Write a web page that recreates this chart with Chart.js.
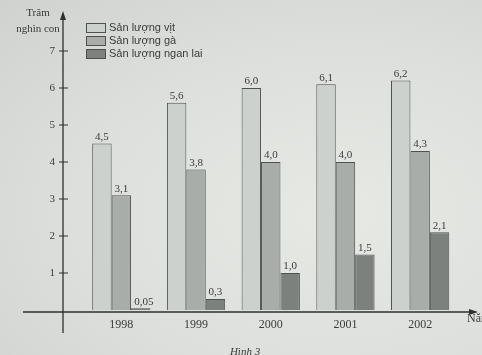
<!DOCTYPE html>
<html>
<head>
<meta charset="utf-8">
<title>Hinh 3</title>
<style>
html, body { margin: 0; padding: 0; }
body { width: 482px; height: 355px; overflow: hidden;
  background: radial-gradient(ellipse at 70% 60%, #e7e9e5 0%, #dcdfdb 55%, #cfd2ce 100%); }
canvas { display: block; }
</style>
</head>
<body>
<canvas id="chart" width="482" height="355"></canvas>
<script src="https://cdn.jsdelivr.net/npm/chart.js"></script>
<script>
  const years = ['1998', '1999', '2000', '2001', '2002'];
  const vit = [4.5, 5.6, 6.0, 6.1, 6.2];
  const ga = [3.1, 3.8, 4.0, 4.0, 4.3];
  const nganLai = [0.05, 0.3, 1.0, 1.5, 2.1];

  const serif = '"Liberation Serif", "DejaVu Serif", serif';
  const sans = '"Liberation Sans", Arial, sans-serif';
  const ink = '#3a3c3b';

  function fmt(v) {
    return (v < 0.1 ? v.toFixed(2) : v.toFixed(1)).replace('.', ',');
  }

  // axis lines with arrows, tick crosses, value labels, legend, captions
  const decor = {
    id: 'decor',
    afterDatasetsDraw(chart) {
      const c = chart.ctx;
      c.save();
      c.font = '11px ' + serif;
      c.fillStyle = ink;
      c.textAlign = 'center';
      c.textBaseline = 'bottom';
      chart.data.datasets.forEach((ds, i) => {
        chart.getDatasetMeta(i).data.forEach((bar, j) => {
          c.fillText(fmt(ds.data[j]), bar.x + (ds.data[j] < 0.1 ? 3 : 0), bar.y - 1);
        });
      });
      c.restore();
    },
    afterDraw(chart) {
      const c = chart.ctx;
      const y = chart.scales.y;
      const ax = 63;
      const y0 = y.getPixelForValue(0) + 2;
      c.save();
      c.strokeStyle = '#2e302f';
      c.fillStyle = '#2e302f';
      c.lineWidth = 1.3;
      c.beginPath();
      c.moveTo(ax, 333); c.lineTo(ax, 14);
      c.moveTo(23, y0); c.lineTo(474, y0);
      c.stroke();
      // arrows
      c.beginPath();
      c.moveTo(ax, 11); c.lineTo(ax - 3, 20); c.lineTo(ax + 3, 20); c.closePath();
      c.moveTo(478, y0); c.lineTo(469, y0 - 3); c.lineTo(469, y0 + 3); c.closePath();
      c.fill();
      // tick crosses
      c.lineWidth = 1;
      c.beginPath();
      y.ticks.forEach(t => {
        if (t.value < 1 || t.value > 7) return;
        const py = y.getPixelForValue(t.value);
        c.moveTo(ax - 4, py); c.lineTo(ax + 5, py);
      });
      c.stroke();
      // legend
      c.font = '11px ' + sans;
      c.textAlign = 'left';
      c.textBaseline = 'middle';
      chart.data.datasets.forEach((ds, i) => {
        const ty = 23 + i * 13;
        c.fillStyle = ds.backgroundColor;
        c.fillRect(86, ty, 19, 9);
        c.strokeStyle = ds.borderColor;
        c.strokeRect(86.5, ty + 0.5, 19, 9);
        c.fillStyle = ink;
        c.fillText(ds.label, 109, ty + 5);
      });
      // texts
      c.fillStyle = ink;
      c.font = '11px ' + serif;
      c.textAlign = 'center';
      c.fillText('Trăm', 38, 13);
      c.fillText('nghìn con', 38, 29);
      c.textAlign = 'left';
      c.font = '12px ' + serif;
      c.fillText('Năm', 467, 319);
      c.textAlign = 'center';
      c.font = 'italic 11px ' + serif;
      c.fillText('Hình 3', 245, 352);
      c.restore();
    }
  };

  new Chart(document.getElementById('chart'), {
    type: 'bar',
    data: {
      labels: years,
      datasets: [
        { label: 'Sản lượng vịt', data: vit, backgroundColor: '#cdd1ce', borderColor: '#4e5150', borderWidth: 1 },
        { label: 'Sản lượng gà', data: ga, backgroundColor: '#a8adaa', borderColor: '#4e5150', borderWidth: 1 },
        { label: 'Sản lượng ngan lai', data: nganLai, backgroundColor: '#7c817e', borderColor: '#4e5150', borderWidth: 1 }
      ]
    },
    options: {
      responsive: false,
      animation: false,
      layout: { padding: { left: 0, right: 24.5, top: 14, bottom: 0 } },
      datasets: { bar: { categoryPercentage: 0.78, barPercentage: 1 } },
      plugins: {
        tooltip: { enabled: false },
        legend: { display: false }
      },
      scales: {
        x: {
          grid: { display: false },
          border: { display: false },
          ticks: { color: ink, font: { family: serif, size: 12 }, padding: 0 },
          afterFit(s) { s.height = 45; s.paddingLeft = 0; s.paddingRight = 0; }
        },
        y: {
          min: 0, max: 8,
          grid: { display: false },
          border: { display: false },
          ticks: {
            stepSize: 1, padding: 21, color: ink,
            font: { family: serif, size: 11 },
            callback: v => (v >= 1 && v <= 7 ? v : '')
          },
          afterFit(s) { s.width = 84; s.paddingTop = 0; s.paddingBottom = 0; }
        }
      }
    },
    plugins: [decor]
  });
</script>
</body>
</html>
